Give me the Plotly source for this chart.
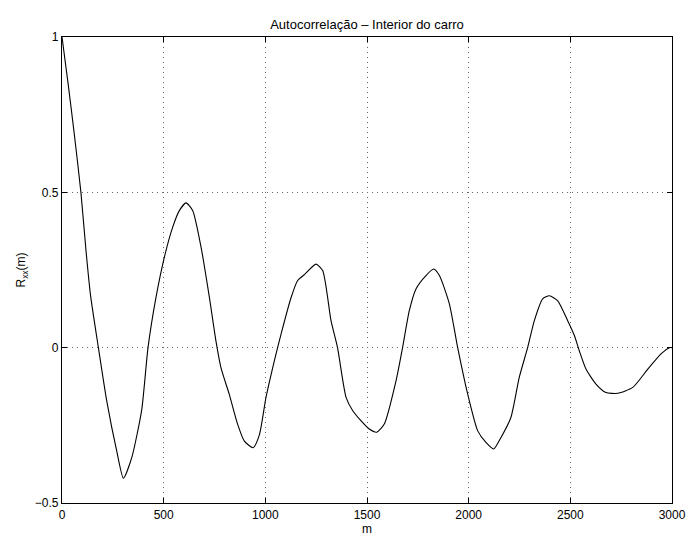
import plotly.graph_objects as go

# lag m and autocorrelation values
m = [0, 30, 60, 93, 118, 140, 179, 220, 269, 302, 343, 392, 423, 462, 503, 544, 577, 610,
     643, 684, 725, 757, 782, 823, 864, 897, 940, 971, 1003, 1044, 1077, 1126, 1159, 1192,
     1249, 1282, 1323, 1355, 1397, 1430, 1470, 1511, 1548, 1585, 1643, 1675, 1708, 1741,
     1790, 1828, 1856, 1905, 1946, 1995, 2044, 2085, 2123, 2159, 2208, 2249, 2290, 2323,
     2364, 2397, 2438, 2487, 2520, 2544, 2577, 2626, 2675, 2733, 2807, 2881, 2946, 2987, 3000]
rxx = [1.0, 0.85, 0.69, 0.5, 0.313, 0.17, 0.0, -0.171, -0.332, -0.42, -0.354, -0.2, 0.0,
       0.161, 0.29, 0.387, 0.441, 0.466, 0.441, 0.323, 0.161, 0.022, -0.065, -0.151, -0.247,
       -0.301, -0.322, -0.28, -0.161, -0.043, 0.043, 0.16, 0.216, 0.235, 0.269, 0.248, 0.087,
       0.0, -0.16, -0.203, -0.235, -0.262, -0.272, -0.246, -0.106, 0.0, 0.119, 0.189, 0.232,
       0.253, 0.232, 0.141, 0.0, -0.149, -0.267, -0.305, -0.326, -0.289, -0.224, -0.095, 0.0,
       0.087, 0.157, 0.167, 0.151, 0.087, 0.039, -0.01, -0.069, -0.117, -0.144, -0.147,
       -0.128, -0.069, -0.02, 0.0, 0.0]

x_ticks = [0, 500, 1000, 1500, 2000, 2500, 3000]
y_ticks = [-0.5, 0, 0.5, 1]

font = "Liberation Sans, Arial, Helvetica, sans-serif"

fig = go.Figure()
fig.add_trace(go.Scatter(x=m, y=rxx, mode="lines",
                         line=dict(color="black", width=1.1, shape="spline", smoothing=0.6),
                         showlegend=False, hoverinfo="skip"))

axis_common = dict(showline=True, mirror="ticks", linecolor="black", linewidth=1.3,
                   ticks="inside", ticklen=5, tickcolor="black", showgrid=True,
                   gridcolor="#666666", griddash="1px,4px", gridwidth=1, zeroline=False,
                   automargin=False,
                   tickfont=dict(family=font, size=12, color="black"))

fig.update_xaxes(range=[0, 3000], tickvals=x_ticks, ticktext=[str(v) for v in x_ticks],
                 title=dict(text="m", font=dict(family=font, size=12, color="black"), standoff=2),
                 **axis_common)
fig.update_yaxes(range=[-0.5, 1], tickvals=y_ticks, ticktext=["\u22120.5", "0", "0.5", "1"],
                 title=dict(text="R<sub>xx</sub>(m)", font=dict(family=font, size=12, color="black"), standoff=6),
                 **axis_common)

fig.update_layout(
    width=688, height=537,
    margin=dict(l=62, r=16, t=37, b=34),
    paper_bgcolor="white", plot_bgcolor="white",
    title=dict(text="Autocorrelação \u2013 Interior do carro", x=0.5, xref="paper",
               y=1 - 24 / 537, yref="container", yanchor="middle",
               font=dict(family=font, size=13, color="black")),
)

fig.write_html("out.html")
